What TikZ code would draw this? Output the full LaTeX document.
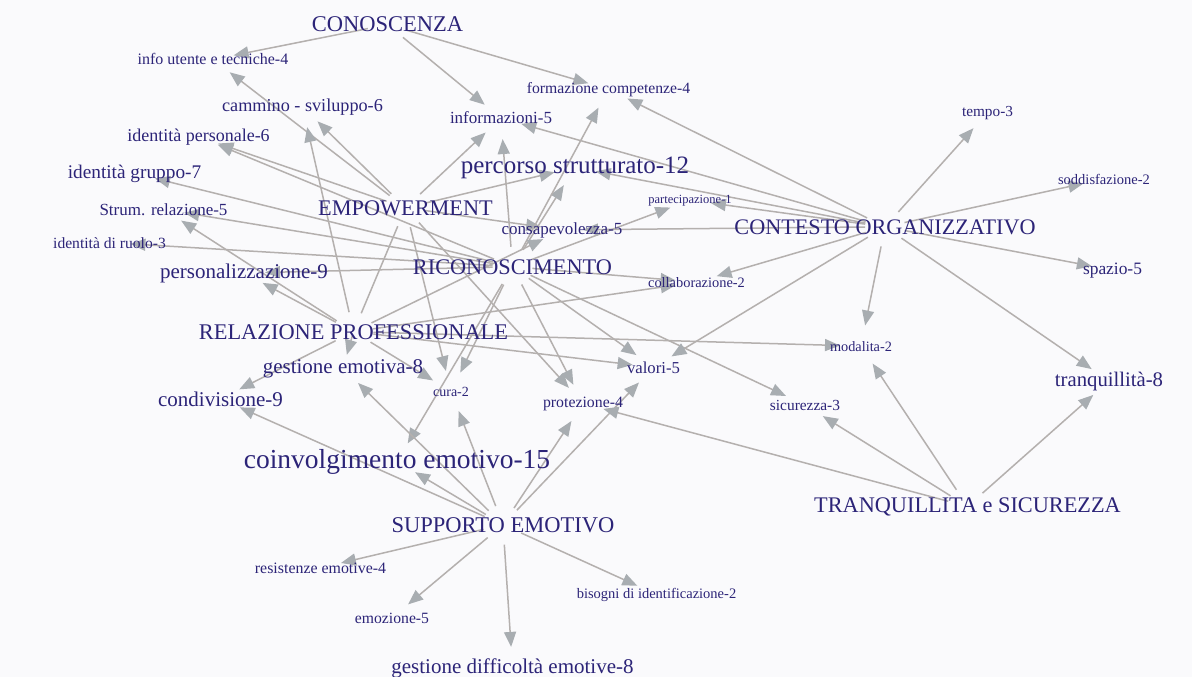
\documentclass[tikz,border=0pt]{standalone}
\usepackage{fontspec}
\setmainfont{Liberation Serif}
\usetikzlibrary{arrows.meta}
\definecolor{ink}{RGB}{44,36,120}
\definecolor{wire}{RGB}{180,176,174}
\definecolor{tipc}{RGB}{168,173,177}
\definecolor{paper}{RGB}{250,250,252}
\pgfdeclarelayer{back}
\pgfdeclarelayer{edges}
\pgfsetlayers{back,edges,main}
\tikzset{
  lbl/.style={anchor=base, inner sep=0pt, text=ink, font=\fontsize{#1}{#1}\selectfont},
  link/.style={draw=wire, line width=1.5pt,
    -{Triangle[length=15pt,width=12pt,color=tipc]},
    shorten <=20pt, shorten >=21pt},
  plainlink/.style={draw=wire, line width=1.5pt, shorten <=20pt, shorten >=20pt},
}
\begin{document}
\begin{tikzpicture}[x=1pt,y=-1pt]
\begin{pgfonlayer}{back}
  \fill[paper] (0,0) rectangle (1192,677);
\end{pgfonlayer}
\useasboundingbox (0,0) rectangle (1192,677);

% main themes
\node[lbl=22.5] (con)   at (387.5,32)  {CONOSCENZA};
\node[lbl=22.3] (emp)   at (405.5,215) {EMPOWERMENT};
\node[lbl=22.3] (ric)   at (512.5,274) {RICONOSCIMENTO};
\node[lbl=22.4] (rel)   at (353.5,339) {RELAZIONE PROFESSIONALE};
\node[lbl=22.2] (cont)  at (885,234)   {CONTESTO ORGANIZZATIVO};
\node[lbl=22.5] (supp)  at (503,532)   {SUPPORTO EMOTIVO};
\node[lbl=22.3] (tranq) at (967.5,512) {TRANQUILLITA e SICUREZZA};

% sub-themes
\node[lbl=16]   (info)     at (213,65)    {info utente e tecniche-4};
\node[lbl=18.2] (cammino)  at (302.5,111) {cammino - sviluppo-6};
\node[lbl=18]   (idpers)   at (198.5,141) {identità personale-6};
\node[lbl=19.3] (idgru)    at (134.5,178) {identità gruppo-7};
\node[lbl=17]   (strum)    at (163.5,215) {Strum. relazione-5};
\node[lbl=15.6] (idruolo)  at (109.5,248) {identità di ruolo-3};
\node[lbl=21]   (pers)     at (244,278)   {personalizzazione-9};
\node[lbl=21]   (gestemo)  at (343,373)   {gestione emotiva-8};
\node[lbl=21]   (condiv)   at (220.5,406) {condivisione-9};
\node[lbl=14]   (cura)     at (451,396)   {cura-2};
\node[lbl=27.5] (coinv)    at (397,468)   {coinvolgimento emotivo-15};
\node[lbl=17]   (infoz)    at (501,124)   {informazioni-5};
\node[lbl=15.7] (form)     at (608.5,93)  {formazione competenze-4};
\node[lbl=25]   (perc)     at (575,173)   {percorso strutturato-12};
\node[lbl=12.5] (partec)   at (690,203)   {partecipazione-1};
\node[lbl=17]   (consap)   at (562,234)   {consapevolezza-5};
\node[lbl=14.4] (collab)   at (696.5,287) {collaborazione-2};
\node[lbl=16.7] (valori)   at (653.5,373) {valori-5};
\node[lbl=15.8] (protez)   at (583,407)   {protezione-4};
\node[lbl=14.3] (modal)    at (861,351)   {modalita-2};
\node[lbl=15.4] (sicur)    at (805,410)   {sicurezza-3};
\node[lbl=20.7] (tranq8)   at (1109,386)  {tranquillità-8};
\node[lbl=15.3] (tempo)    at (987.5,116) {tempo-3};
\node[lbl=14.5] (soddisf)  at (1104,184)  {soddisfazione-2};
\node[lbl=17.4] (spazio)   at (1112.5,274){spazio-5};
\node[lbl=15.9] (resist)   at (320.5,573) {resistenze emotive-4};
\node[lbl=14.5] (bisogni)  at (656.5,598) {bisogni di identificazione-2};
\node[lbl=15.7] (emoz)     at (392,623)   {emozione-5};
\node[lbl=21]   (gestdiff) at (512.5,673) {gestione difficoltà emotive-8};

\begin{pgfonlayer}{edges}
  \foreach \t in {info,infoz,form}
    \draw[link] (con.center) -- (\t.center);
  \foreach \t in {info,cammino,idpers,infoz,perc,consap,cura,protez}
    \draw[link] (emp.center) -- (\t.center);
  \foreach \t in {idpers,idgru,strum,idruolo,pers,infoz,perc,form,partec,cura,coinv,protez,valori,sicur,collab}
    \draw[link] (ric.center) -- (\t.center);
  \foreach \t in {cammino,strum,pers,condiv,cura,valori,modal,collab,consap}
    \draw[link] (rel.center) -- (\t.center);
  \draw[plainlink] (rel.center) -- (emp.center);
  \draw[link, shorten <=4pt, shorten >=14pt] (rel.center) -- (gestemo.center);
  \foreach \t in {form,infoz,perc,partec,consap,collab,valori,modal,tranq8,tempo,soddisf,spazio}
    \draw[link] (cont.center) -- (\t.center);
  \foreach \t in {resist,emoz,gestdiff,bisogni,coinv,condiv,gestemo,cura,protez,valori}
    \draw[link] (supp.center) -- (\t.center);
  \foreach \t in {protez,sicur,modal,tranq8}
    \draw[link] (tranq.center) -- (\t.center);
\end{pgfonlayer}
\end{tikzpicture}
\end{document}
